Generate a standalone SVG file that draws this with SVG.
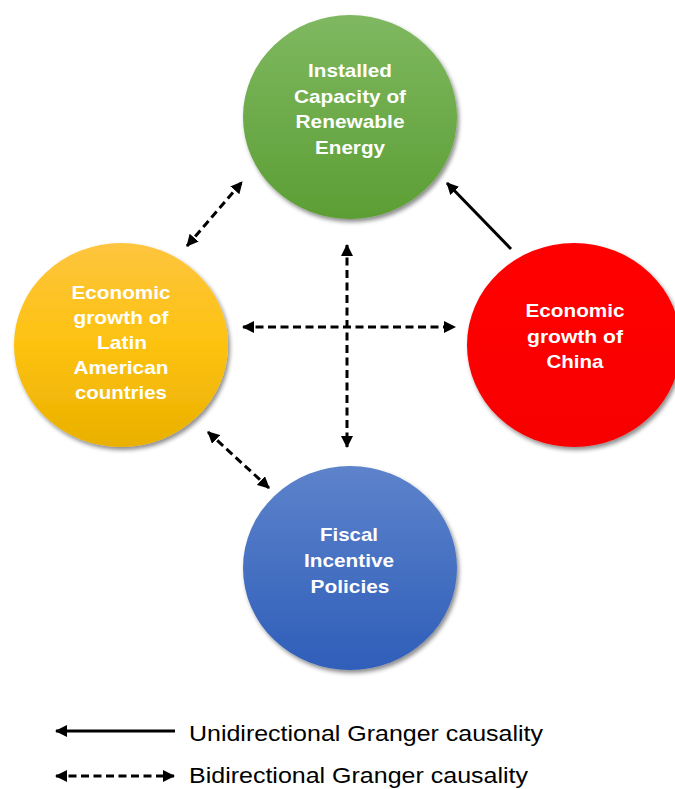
<svg xmlns="http://www.w3.org/2000/svg" width="675" height="789" viewBox="0 0 675 789">
  <style>
    .lbl { font-family: "Liberation Sans", Arial, sans-serif; font-weight: bold; font-size: 19px; fill: #ffffff; text-anchor: middle; }
    .leg { font-family: "Liberation Sans", Arial, sans-serif; font-size: 21.5px; fill: #000000; }
    .solid { stroke: #000; stroke-width: 3; fill: none; }
    .dash { stroke: #000; stroke-width: 3; fill: none; stroke-dasharray: 8 4.5; }
  </style>
  <defs>
    <linearGradient id="gGreen" x1="0" y1="0" x2="0" y2="1">
      <stop offset="0" stop-color="#7fb861"/>
      <stop offset="1" stop-color="#5c9e34"/>
    </linearGradient>
    <linearGradient id="gYellow" x1="0" y1="0" x2="0" y2="1">
      <stop offset="0" stop-color="#fec53f"/>
      <stop offset="0.5" stop-color="#fdc20f"/>
      <stop offset="1" stop-color="#e9b000"/>
    </linearGradient>
    <linearGradient id="gRed" x1="0" y1="0" x2="0" y2="1">
      <stop offset="0" stop-color="#ff0000"/>
      <stop offset="1" stop-color="#f80000"/>
    </linearGradient>
    <linearGradient id="gBlue" x1="0" y1="0" x2="0" y2="1">
      <stop offset="0" stop-color="#5d83cb"/>
      <stop offset="1" stop-color="#2f5eb9"/>
    </linearGradient>
    <filter id="shadow" x="-20%" y="-20%" width="140%" height="140%">
      <feDropShadow dx="2" dy="3" stdDeviation="2.2" flood-color="#000" flood-opacity="0.45"/>
    </filter>
    <marker id="head" viewBox="0 0 12 12" refX="11" refY="6" markerWidth="12" markerHeight="12" markerUnits="userSpaceOnUse" orient="auto-start-reverse">
      <path d="M0,0 L12,6 L0,12 Z" fill="#000"/>
    </marker>
  </defs>

  <!-- nodes -->
  <g id="node-renewable">
    <ellipse cx="350" cy="117" rx="107" ry="102" fill="url(#gGreen)" filter="url(#shadow)"/>
    <text class="lbl" x="350" y="77" textLength="84" lengthAdjust="spacingAndGlyphs">Installed</text>
    <text class="lbl" x="350" y="103" textLength="112" lengthAdjust="spacingAndGlyphs">Capacity of</text>
    <text class="lbl" x="350" y="128" textLength="109" lengthAdjust="spacingAndGlyphs">Renewable</text>
    <text class="lbl" x="350" y="154" textLength="70" lengthAdjust="spacingAndGlyphs">Energy</text>
  </g>
  <g id="node-latam">
    <ellipse cx="121" cy="345" rx="107" ry="102" fill="url(#gYellow)" filter="url(#shadow)"/>
    <text class="lbl" x="121" y="299" textLength="99" lengthAdjust="spacingAndGlyphs">Economic</text>
    <text class="lbl" x="121" y="324" textLength="95" lengthAdjust="spacingAndGlyphs">growth of</text>
    <text class="lbl" x="122" y="349" textLength="50" lengthAdjust="spacingAndGlyphs">Latin</text>
    <text class="lbl" x="121" y="374" textLength="95" lengthAdjust="spacingAndGlyphs">American</text>
    <text class="lbl" x="121" y="399" textLength="92" lengthAdjust="spacingAndGlyphs">countries</text>
  </g>
  <g id="node-china">
    <ellipse cx="574" cy="345" rx="107" ry="102" fill="url(#gRed)" filter="url(#shadow)"/>
    <text class="lbl" x="575" y="317" textLength="99" lengthAdjust="spacingAndGlyphs">Economic</text>
    <text class="lbl" x="575" y="343" textLength="96" lengthAdjust="spacingAndGlyphs">growth of</text>
    <text class="lbl" x="575" y="368" textLength="57" lengthAdjust="spacingAndGlyphs">China</text>
  </g>
  <g id="node-fiscal">
    <ellipse cx="350" cy="568" rx="107" ry="102" fill="url(#gBlue)" filter="url(#shadow)"/>
    <text class="lbl" x="349" y="541" textLength="58" lengthAdjust="spacingAndGlyphs">Fiscal</text>
    <text class="lbl" x="349" y="567" textLength="90" lengthAdjust="spacingAndGlyphs">Incentive</text>
    <text class="lbl" x="350" y="593" textLength="79" lengthAdjust="spacingAndGlyphs">Policies</text>
  </g>

  <!-- connectors -->
  <g id="connectors">
    <line class="solid" x1="511" y1="249" x2="447" y2="183" marker-end="url(#head)"/>
    <line class="dash" x1="187" y1="246" x2="242" y2="182" marker-start="url(#head)" marker-end="url(#head)"/>
    <line class="dash" x1="243" y1="327" x2="455" y2="327" marker-start="url(#head)" marker-end="url(#head)"/>
    <line class="dash" x1="347" y1="245" x2="347" y2="447" marker-start="url(#head)" marker-end="url(#head)"/>
    <line class="dash" x1="208" y1="432" x2="269" y2="488" marker-start="url(#head)" marker-end="url(#head)"/>
  </g>

  <!-- legend -->
  <g id="legend">
    <line class="solid" x1="175" y1="731" x2="56" y2="731" marker-end="url(#head)"/>
    <text class="leg" x="189" y="741" textLength="354" lengthAdjust="spacingAndGlyphs">Unidirectional Granger causality</text>
    <line class="dash" x1="56" y1="776" x2="174" y2="776" marker-start="url(#head)" marker-end="url(#head)"/>
    <text class="leg" x="189" y="783" textLength="339" lengthAdjust="spacingAndGlyphs">Bidirectional Granger causality</text>
  </g>
</svg>
